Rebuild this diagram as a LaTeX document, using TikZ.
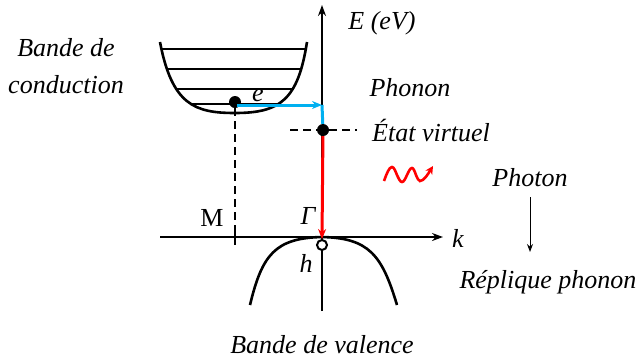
\documentclass[tikz,border=0pt]{standalone}
\usepackage{fontspec}
\setmainfont{Liberation Serif}
\usetikzlibrary{arrows.meta}
\definecolor{phcyan}{RGB}{0,176,240}
\begin{document}
\begin{tikzpicture}[x=1pt,y=-1pt,
  lbl/.style={font=\fontsize{26}{30}\selectfont\itshape, inner sep=0pt},
  rlbl/.style={font=\fontsize{26}{30}\selectfont, inner sep=0pt},
  band/.style={line width=2.6pt, black},
  axis/.style={line width=2.2pt, -{Stealth[length=11pt,width=8pt]}},
  dashline/.style={line width=2.2pt, dash pattern=on 8pt off 5pt},
  dot/.style={circle, fill=black, inner sep=0pt, minimum size=12pt},
  hole/.style={circle, draw=black, fill=white, line width=2pt, inner sep=0pt, minimum size=10pt}]
\useasboundingbox (0,0) rectangle (640,360);
% coordinates
\coordinate (ytop) at (322,5);
\coordinate (ybot) at (322,311);
\coordinate (kleft) at (160,237);
\coordinate (kright) at (443,237);
\coordinate (cs) at (237,105);
\coordinate (vs) at (322,105);
\coordinate (mt) at (235,113);
\coordinate (mb) at (235,245);
\coordinate (dl) at (290,130);
\coordinate (dr) at (357,130);
% axes
\draw[line width=2.2pt] (ybot) -- (322,130);
\draw[axis] (vs) -- (ytop);
\draw[axis] (kleft) -- (kright);
% conduction band
\begin{scope}
\clip (160,42) .. controls (172,105) and (195,113) .. (235,113) .. controls (280,113) and (298,100) .. (307,42) -- cycle;
\foreach \yy in {49,69,89,104} \draw[line width=2pt] (150,\yy) -- (320,\yy);
\end{scope}
\draw[band] (160,42) .. controls (172,105) and (195,113) .. (235,113) .. controls (280,113) and (298,100) .. (307,42);
% valence band
\draw[band] (250,305) .. controls (262,255) and (275,238) .. (322,237) .. controls (369,238) and (382,255) .. (397,305);
% nodes
\node[dot] (el) at (235,102) {};
\node[dot] (virt) at (323,130) {};
\node[hole] (h) at (322,245) {};
\draw[dashline] (el) -- (mt) -- (235,226);
\draw[line width=2.2pt] (235,226) -- (mb);
\draw[dashline] (dl) -- (virt) -- (dr);
\draw[phcyan, line width=3pt, -{Stealth[length=10pt,width=8pt]}] (cs) -- (vs);
\draw[phcyan, line width=3pt] (vs) -- (virt);
\draw[red, line width=3pt, -{Stealth[length=10pt,width=8pt]}] (virt) -- (h.north);
% photon
\draw[red, line width=2.6pt, -{Stealth[length=8pt,width=8pt]}] (384,181) sin (392,167) cos (397,175) sin (402,182) cos (407,175) sin (412,168) cos (416,175) sin (420,181) .. controls (424,181) and (428,174) .. (433,166);
% labels
\node[lbl] (t1) at (66,48) {Bande de};
\node[lbl] (t2) at (66,85) {conduction};
\node[lbl] (e) at (258,95) {e};
\node[lbl] (E) at (382,23) {E (eV)};
\node[lbl] (ph) at (410,88) {Phonon};
\node[lbl, anchor=west] (ev) at (372,130) {État virtuel};
\node[lbl] (pt) at (530,178) {Photon};
\node[lbl] (rp) at (548,282) {Réplique phonon};
\node[lbl] (bv) at (322,345) {Bande de valence};
\node[rlbl] (M) at (212,218) {M};
\node[lbl] (G) at (308,216) {Γ};
\node[lbl] (k) at (458,238) {k};
\node[lbl] (hl) at (306,263) {h};
\draw[line width=1pt, -{Stealth[length=8pt,width=6pt]}] (530,197) -- (530,252);
\end{tikzpicture}
\end{document}
